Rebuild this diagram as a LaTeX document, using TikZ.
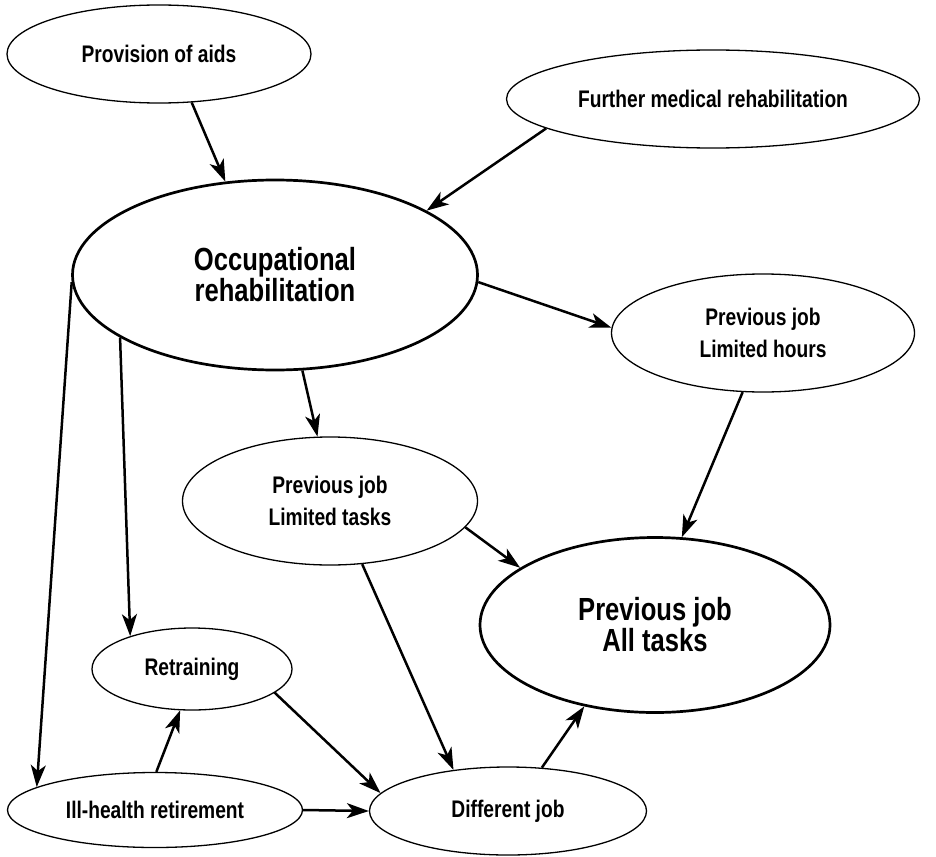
\documentclass[tikz,border=0pt]{standalone}
\usepackage{fontspec}
\setmainfont{Liberation Sans}[FakeStretch=0.8]
\usetikzlibrary{shapes.geometric, arrows.meta}

\tikzset{
  oval/.style 2 args={ellipse, draw, line width=0.65pt, inner sep=0pt,
    minimum width=#1, minimum height=#2, align=center},
  heavy/.style={line width=1.35pt},
  link/.style={-{Stealth[length=11pt, width=7.5pt, inset=3pt]}, line width=1.25pt},
}

\begin{document}
\begin{tikzpicture}[x=0.5pt, y=-0.5pt]

  \newcommand\SMALLTEXT{\fontsize{12}{16}\selectfont\bfseries}
  \newcommand\LARGETEXT{\fontsize{16}{15.5}\selectfont\bfseries}

  \useasboundingbox (0, 0) rectangle (936, 856);

  % top row
  \node[oval={152pt}{49pt}, font=\SMALLTEXT] (prov) at (159, 54) {Provision of aids};
  \node[oval={206.5pt}{49pt}, font=\SMALLTEXT] (fmr) at (713, 99) {Further medical rehabilitation};

  \node[oval={202.5pt}{95pt}, heavy, font=\LARGETEXT] (occ) at (275, 275) {Occupational\\rehabilitation};
  \node[oval={151.5pt}{59pt}, font=\SMALLTEXT] (hours) at (763, 333) {Previous job\\Limited hours};
  \node[oval={147.5pt}{64pt}, font=\SMALLTEXT] (tasks) at (330, 501) {Previous job\\Limited tasks};
  \node[oval={175pt}{87.5pt}, heavy, font=\LARGETEXT] (all) at (655, 625) {Previous job\\All tasks};

  % bottom row
  \node[oval={100pt}{41pt}, font=\SMALLTEXT] (retrain) at (192, 669) {Retraining};
  \node[oval={147.5pt}{37.5pt}, font=\SMALLTEXT] (ill) at (155, 810) {Ill-health retirement};
  \node[oval={138.5pt}{44pt}, font=\SMALLTEXT] (diff) at (508, 811) {Different job};

  \draw[link] (prov.-56) -- (occ.118);
  \draw[link] (fmr.190) -- (occ.23);
  \draw[link] (occ.-2) -- (hours.178);
  \draw[link] (occ.-74) -- (tasks.101);
  \draw[link] (occ.202.6) -- (retrain.152);
  \draw[link] (occ.182) -- (ill.169);
  \draw[link] (hours.251) -- (all.73);
  \draw[link] (tasks.-11) -- (all.157);
  \draw[link] (tasks.-63) -- (diff.143);
  \draw[link] (diff.52) -- (all.229);
  \draw[link] (retrain.-16.5) -- (diff.172);
  \draw[link] (ill.88) -- (retrain.254);
  \draw[link] (ill.0) -- (diff.180);

\end{tikzpicture}
\end{document}
